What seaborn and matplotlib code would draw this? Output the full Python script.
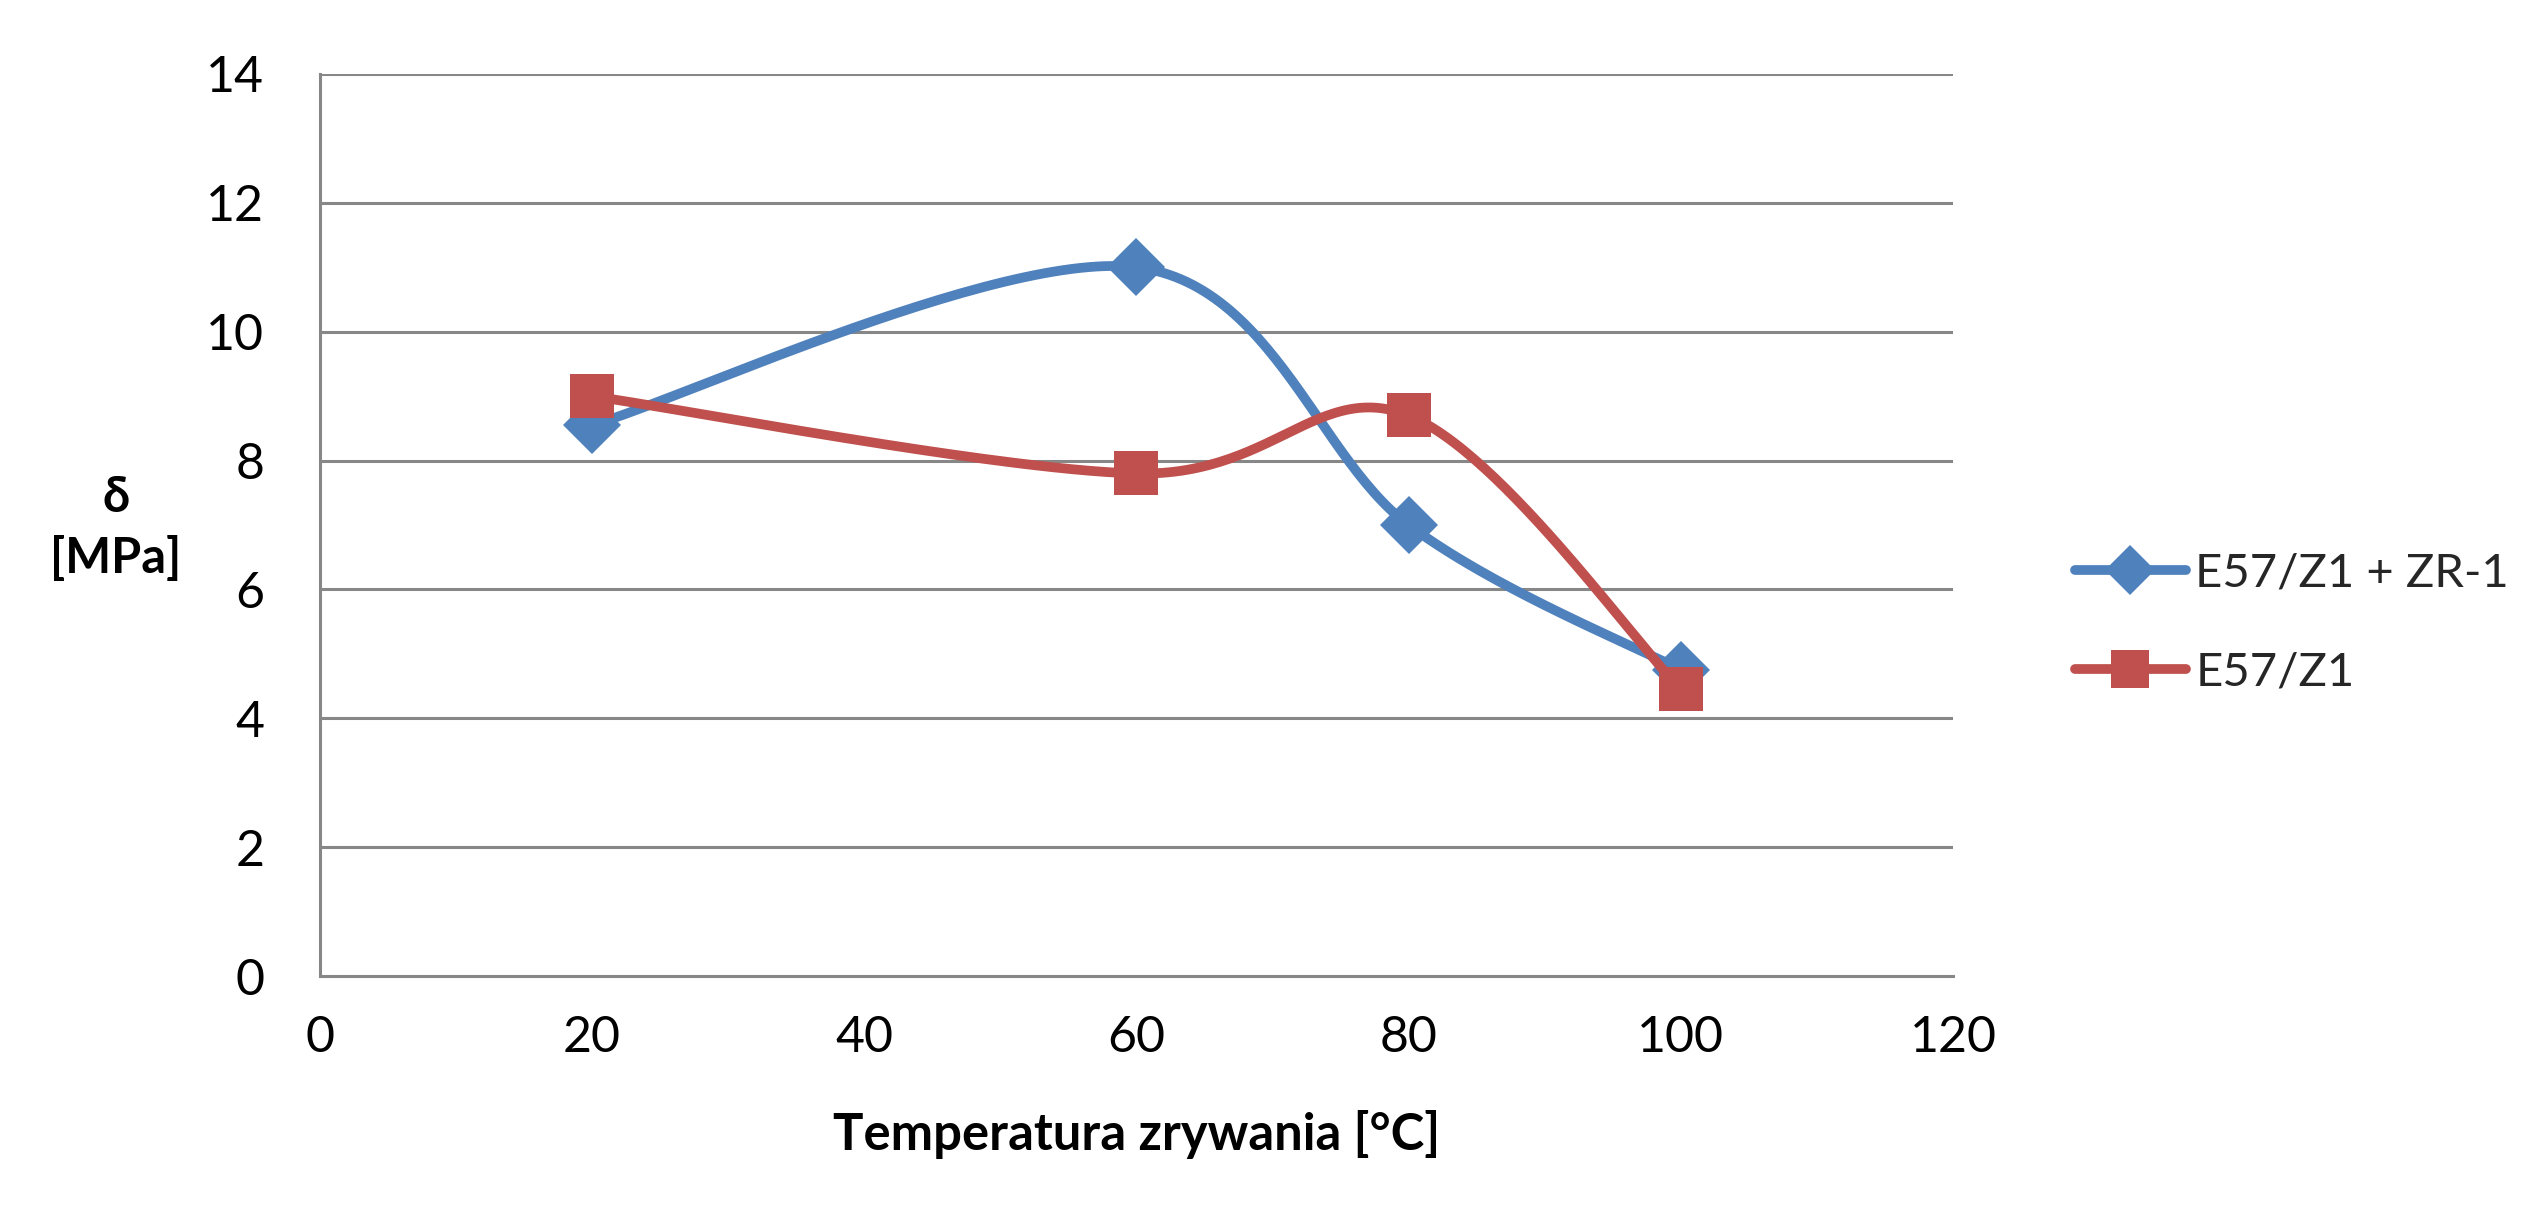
import numpy as np
import pandas as pd
import matplotlib
matplotlib.use("Agg")
import matplotlib.pyplot as plt
from matplotlib.lines import Line2D
import seaborn as sns

# Breaking temperature [°C] and tensile strength δ [MPa]
temperatures = [20, 60, 80, 100]
series_names = ["E57/Z1 + ZR-1", "E57/Z1"]
strength_zr1 = [8.55, 11.0, 7.0, 4.75]
strength_base = [9.0, 7.8, 8.7, 4.45]
x_ticks = [0, 20, 40, 60, 80, 100, 120]
y_ticks = [0, 2, 4, 6, 8, 10, 12, 14]

colors = ["#4F81BD", "#C0504D"]
markers = ["D", "s"]
marker_sizes = [30, 31.5]
legend_marker_sizes = [25, 27]


def smooth_curve(xs, ys, n=60):
    """Spreadsheet-style smoothed line: cubic Bezier segments with
    Catmull-Rom tangents (1/6 of the neighbour difference)."""
    pts = np.column_stack([xs, ys]).astype(float)
    ext = np.vstack([pts[0], pts, pts[-1]])
    out = []
    t = np.linspace(0, 1, n)[:, None]
    for i in range(len(pts) - 1):
        p0, p3 = ext[i + 1], ext[i + 2]
        c1 = p0 + (ext[i + 2] - ext[i]) / 6.0
        c2 = p3 - (ext[i + 3] - ext[i + 1]) / 6.0
        seg = ((1 - t) ** 3) * p0 + 3 * ((1 - t) ** 2) * t * c1 \
            + 3 * (1 - t) * t ** 2 * c2 + t ** 3 * p3
        out.append(seg if i == 0 else seg[1:])
    seg = np.vstack(out)
    return seg[:, 0], seg[:, 1]


sns.set_theme(style="white")
plt.rcParams["font.family"] = ["Lato", "DejaVu Sans"]

fig = plt.figure(figsize=(25.41, 12.15), dpi=100)
ax = fig.add_axes([0.1259, 0.1967, 0.6427, 0.7424])

grid_color = "#878787"
for yv in y_ticks[1:]:
    ax.axhline(yv, color=grid_color, lw=2.2, zorder=0)

for name, vals, col, mk, ms in zip(series_names, [strength_zr1, strength_base],
                                   colors, markers, marker_sizes):
    cx, cy = smooth_curve(temperatures, vals)
    curve = pd.DataFrame({"x": cx, "y": cy})
    sns.lineplot(data=curve, x="x", y="y", ax=ax, color=col, lw=7,
                 sort=False, estimator=None, solid_capstyle="round", zorder=3)
    pts = pd.DataFrame({"x": temperatures, "y": vals})
    ax.plot(pts["x"], pts["y"], ls="none", marker=mk, ms=ms,
            color=col, markeredgewidth=0, zorder=3)

ax.set_xlim(0, 120)
ax.set_ylim(0, 14)
ax.set_xticks(x_ticks)
ax.set_yticks(y_ticks)
ax.tick_params(axis="both", length=0, labelsize=36, colors="#000000")
ax.tick_params(axis="x", pad=28)
ax.tick_params(axis="y", pad=40)

for side in ["top", "right"]:
    ax.spines[side].set_visible(False)
for side in ["left", "bottom"]:
    ax.spines[side].set_color(grid_color)
    ax.spines[side].set_linewidth(2.2)

ax.set_xlabel("Temperatura zrywania [°C]", fontsize=36.5, fontweight="bold",
              color="#000000")
ax.xaxis.set_label_coords(0.5, -0.148)
ax.set_ylabel("δ\n[MPa]", fontsize=35, fontweight="bold", rotation=0,
              color="#000000", ha="center", va="center", linespacing=1.4)
ax.yaxis.set_label_coords(-0.125, 0.497)

handles = [Line2D([0], [0], color=c, lw=7, marker=m, ms=s,
                  markeredgewidth=0, solid_capstyle="round")
           for c, m, s in zip(colors, markers, legend_marker_sizes)]
fig.legend(handles, series_names, loc="center left",
           bbox_to_anchor=(0.8166, 0.487), frameon=False, fontsize=34,
           handlelength=2.35, handletextpad=0.2, labelspacing=1.2,
           borderpad=0, borderaxespad=0)

fig.savefig("out.png", dpi=100, facecolor="white")
